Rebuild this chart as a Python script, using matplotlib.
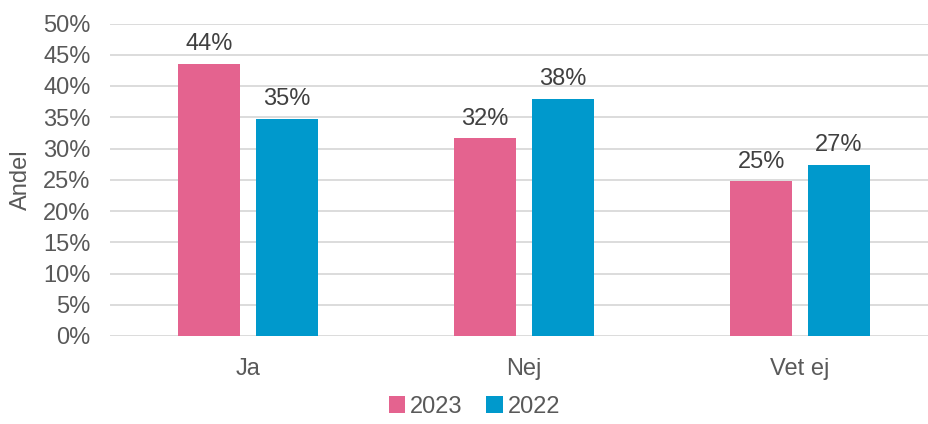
import numpy as np
import matplotlib
matplotlib.use("Agg")
from matplotlib import pyplot as plt

categories = ['Ja', 'Nej', 'Vet ej']
years = ['2023', '2022']
values_2023 = [43.6, 31.7, 24.8]
values_2022 = [34.8, 38.0, 27.4]
labels_2023 = ['44%', '32%', '25%']
labels_2022 = ['35%', '38%', '27%']

plt.rcParams['font.family'] = ['Liberation Sans', 'DejaVu Sans']
grey = '#595959'
colors = ['#E4638F', '#0099CC']
fs = 17

fig = plt.figure(figsize=(9.29, 4.24), dpi=100)
ax = fig.add_axes([110 / 929, 1 - 336 / 424, 1 - 110 / 929, (336 - 23.5) / 424])

x = np.arange(len(categories))
w = 0.225
off = 0.141
series = [(values_2023, labels_2023), (values_2022, labels_2022)]
for i, (vals, labs) in enumerate(series):
    pos = x - off if i == 0 else x + off
    bars = ax.bar(pos, vals, w, color=colors[i], label=years[i], zorder=3)
    for b, lab in zip(bars, labs):
        ax.annotate(lab, (b.get_x() + b.get_width() / 2, b.get_height()),
                    xytext=(0, 6), textcoords='offset points',
                    ha='center', va='bottom', fontsize=fs, color='#404040')

ax.set_xlim(-0.5, 2.467)
ax.set_ylim(0, 50)
ax.set_yticks(range(0, 51, 5))
ax.set_yticklabels([f'{v}%' for v in range(0, 51, 5)])
ax.set_xticks(x)
ax.set_xticklabels(categories)
ax.tick_params(axis='both', length=0, labelsize=fs, labelcolor=grey)
ax.tick_params(axis='x', pad=16)
ax.tick_params(axis='y', pad=14)
ax.grid(axis='y', color='#D9D9D9', linewidth=1.3, zorder=0)
for s in ax.spines.values():
    s.set_visible(False)
ax.set_ylabel('Andel', fontsize=fs, color=grey, labelpad=8)

ax.legend(loc='lower center', bbox_to_anchor=(0.445, -0.315), ncol=2, frameon=False,
          fontsize=fs, labelcolor=grey, handlelength=0.7, handleheight=0.7,
          handletextpad=0.2, columnspacing=1.0, borderpad=0.2)

fig.savefig('out.png', dpi=100)
